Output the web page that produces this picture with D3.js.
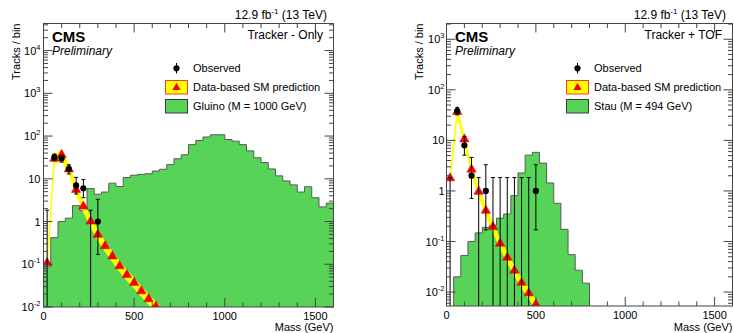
<!DOCTYPE html>
<html>
<head>
<meta charset="utf-8">
<script src="https://cdn.jsdelivr.net/npm/d3@7/dist/d3.min.js"></script>
<style>
  body { margin: 0; background: #fff; }
  svg { display: block; font-family: "Liberation Sans", Arial, Helvetica, sans-serif; }
</style>
</head>
<body>
<svg id="chart" width="734" height="333"></svg>
<script>
// ---- data ----
const binWidth = 40; // GeV, histograms span 0..1600

// signal histograms (tracks / bin), one value per 40 GeV bin
const gluino = [0.087, 0.42, 1.0, 1.2, 2.35, 1.8, 5.9, 4.35, 4.9, 7.9,
  6.6, 10.7, 12.1, 12.7, 13.1, 15.2, 16.7, 21.5, 29.4, 36.5,
  63, 79, 95, 107, 107, 83, 76, 63, 45, 31,
  24, 17, 11.7, 8.9, 7.2, 4.9, 6.5, 3.6, 2.2, 2.7];
const stau = [0, 0.020, 0.053, 0.10, 0.148, 0.19, 0.21, 0.29, 0.35, 0.81,
  2.27, 5.1, 5.8, 3.55, 1.44, 0.57, 0.174, 0.055, 0.027, 0.015,
  0, 0, 0, 0, 0, 0, 0, 0, 0, 0,
  0, 0, 0, 0, 0, 0, 0, 0, 0, 0];

// data-based SM prediction
const predMassTk = [20, 60, 100, 140, 180, 220, 260, 300, 340, 380, 420, 460, 500, 540, 580, 620, 660];
const predTk = [0.105, 29, 35.5, 16.3, 5.4, 2.2, 0.98, 0.48, 0.26, 0.15, 0.088, 0.055, 0.036, 0.023, 0.015, 0.010, 0.0065];
const predMassTof = [20, 60, 100, 140, 180, 220, 260, 300, 340, 380, 420, 460, 500, 540];
const predTof = [1.75, 36, 10.3, 2.6, 0.95, 0.40, 0.19, 0.089, 0.047, 0.026, 0.015, 0.0093, 0.0056, 0.0034];

// observed tracks with error bar ends
const obsMassTk = [20, 60, 100, 140, 180, 220, 260, 300];
const obsTk = [0, 32, 30, 17, 7, 6, 0, 1];
const obsLoTk = [0, 26.4, 24.6, 13, 4.4, 3.6, 0, 0.17];
const obsHiTk = [1.84, 37.7, 35.5, 21.2, 10.8, 9.6, 1.84, 3.3];
const obsMassTof = [20, 60, 100, 140, 180, 220, 260, 300, 340, 380, 420, 460, 500];
const obsTof = [0, 38, 8, 2, 0, 1, 0, 0, 0, 0, 0, 0, 1];
const obsLoTof = [0, 32, 5.1, 0.71, 0, 0.17, 0, 0, 0, 0, 0, 0, 0.17];
const obsHiTof = [1.84, 44.2, 11.8, 4.6, 1.84, 3.3, 1.84, 1.84, 1.84, 1.84, 1.84, 1.84, 3.3];

const xTickLabels = [0, 500, 1000, 1500];
const yExpTk = [-2, -1, 0, 1, 2, 3, 4];
const yExpTof = [-2, -1, 0, 1, 2, 3];

const svg = d3.select("#chart");
const green = "#57d357";

function drawPanel(p) {
  const x = d3.scaleLinear().domain([0, 1600]).range([p.left, p.right]);
  const y = d3.scaleLog().domain(p.yDomain).range([p.bottom, p.top]);
  const ymin = p.yDomain[0];
  const g = svg.append("g");

  const clipId = "clip" + p.id;
  svg.append("clipPath").attr("id", clipId)
    .append("rect")
    .attr("x", p.left).attr("y", p.top)
    .attr("width", p.right - p.left).attr("height", p.bottom - p.top);

  const plot = g.append("g").attr("clip-path", `url(#${clipId})`);

  // signal histogram
  const hp = d3.path();
  hp.moveTo(x(0), p.bottom + 2);
  p.signal.forEach((v, i) => {
    const yv = y(Math.max(v, ymin * 0.98));
    hp.lineTo(x(i * binWidth), yv);
    hp.lineTo(x((i + 1) * binWidth), yv);
  });
  hp.lineTo(x(1600), p.bottom + 2);
  hp.closePath();
  plot.append("path").attr("d", hp.toString())
    .attr("fill", green).attr("stroke", "#5a5a5a").attr("stroke-width", 1);

  // prediction band + markers
  const pred = p.predMass.map((m, i) => ({ m, v: p.pred[i] }));
  const band = d3.area()
    .x(d => x(d.m))
    .y0(d => y(d.v) + 5.5)
    .y1(d => y(d.v) - 5.5);
  plot.append("path").attr("d", band(pred)).attr("fill", "#ffff00");
  plot.append("path").attr("d", d3.line().x(d => x(d.m)).y(d => y(d.v))(pred))
    .attr("fill", "none").attr("stroke", "#ffff00").attr("stroke-width", 1.5);
  plot.selectAll(".tri").data(pred).enter().append("path")
    .attr("d", d3.symbol(d3.symbolTriangle, 38))
    .attr("transform", d => `translate(${x(d.m)},${y(d.v) - 0.5})`)
    .attr("fill", "#ff0000").attr("stroke", "#d00000").attr("stroke-width", 0.5);

  // observed
  const obs = p.obsMass.map((m, i) => ({ m, v: p.obs[i], lo: p.obsLo[i], hi: p.obsHi[i] }));
  obs.forEach(d => {
    const cx = x(d.m);
    const yHi = y(d.hi);
    const yLo = d.lo > 0 ? y(d.lo) : p.bottom + 2;
    plot.append("line").attr("x1", cx).attr("x2", cx).attr("y1", yHi).attr("y2", yLo)
      .attr("stroke", "#000").attr("stroke-width", 1);
    plot.append("line").attr("x1", cx - 2).attr("x2", cx + 2).attr("y1", yHi).attr("y2", yHi)
      .attr("stroke", "#000").attr("stroke-width", 1);
    if (d.lo > 0) {
      plot.append("line").attr("x1", cx - 2).attr("x2", cx + 2).attr("y1", yLo).attr("y2", yLo)
        .attr("stroke", "#000").attr("stroke-width", 1);
    }
    if (d.v > 0) {
      plot.append("circle").attr("cx", cx).attr("cy", y(d.v)).attr("r", 3.1).attr("fill", "#000");
    }
  });

  // frame
  g.append("rect")
    .attr("x", p.left).attr("y", p.top)
    .attr("width", p.right - p.left).attr("height", p.bottom - p.top)
    .attr("fill", "none").attr("stroke", "#444").attr("stroke-width", 1);

  // x ticks (bottom + mirrored top)
  x.ticks(16).forEach(t => {
    const len = t % 500 === 0 ? 9 : 4.5;
    const xx = x(t);
    g.append("line").attr("x1", xx).attr("x2", xx).attr("y1", p.bottom).attr("y2", p.bottom - len)
      .attr("stroke", "#444");
    g.append("line").attr("x1", xx).attr("x2", xx).attr("y1", p.top).attr("y2", p.top + len)
      .attr("stroke", "#444");
  });
  // y ticks (left + mirrored right)
  y.ticks().forEach(t => {
    const major = Math.abs(Math.log10(t) - Math.round(Math.log10(t))) < 1e-6;
    const len = major ? 9 : 4.5;
    const yy = y(t);
    g.append("line").attr("x1", p.left).attr("x2", p.left + len).attr("y1", yy).attr("y2", yy)
      .attr("stroke", "#444");
    g.append("line").attr("x1", p.right).attr("x2", p.right - len).attr("y1", yy).attr("y2", yy)
      .attr("stroke", "#444");
  });

  // tick labels
  xTickLabels.forEach(t => {
    g.append("text").attr("x", x(t)).attr("y", p.bottom + 12.5)
      .attr("text-anchor", "middle").attr("font-size", 11).text(t);
  });
  p.yExp.forEach(e => {
    const t = g.append("text").attr("x", p.left - p.labelGap).attr("y", y(Math.pow(10, e)) + 4)
      .attr("text-anchor", "end").attr("font-size", 11);
    if (e === 0) t.text("1");
    else if (e === 1) t.text("10");
    else {
      t.append("tspan").text("10");
      t.append("tspan").attr("font-size", 7.5).attr("dy", -5).text(e);
    }
  });

  // axis titles
  g.append("text").attr("x", p.right).attr("y", 331)
    .attr("text-anchor", "end").attr("font-size", 11).text("Mass (GeV)");
  g.append("text").attr("transform", `translate(${p.left - 24},${p.top}) rotate(-90)`)
    .attr("text-anchor", "end").attr("font-size", 11).text("Tracks / bin");

  // header texts
  const lumi = g.append("text").attr("x", p.right - 6.5).attr("y", 18.5)
    .attr("text-anchor", "end").attr("font-size", 12);
  lumi.append("tspan").text("12.9 fb");
  lumi.append("tspan").attr("font-size", 8).attr("dy", -5).text("-1");
  lumi.append("tspan").attr("dy", 5).text(" (13 TeV)");

  g.append("text").attr("x", p.left + 8.5).attr("y", 42)
    .attr("font-size", 15).attr("font-weight", "bold").text("CMS");
  g.append("text").attr("x", p.left + 8.5).attr("y", 55)
    .attr("font-size", 12).attr("font-style", "italic").text("Preliminary");
  g.append("text").attr("x", p.right - 10.5).attr("y", 38.5)
    .attr("text-anchor", "end").attr("font-size", 12).text(p.tag);

  // legend
  const lx = p.left + p.legendOffset;
  const tx = lx + 27.5;
  g.append("line").attr("x1", lx + 11).attr("x2", lx + 11).attr("y1", 63).attr("y2", 73.5)
    .attr("stroke", "#000");
  g.append("circle").attr("cx", lx + 11).attr("cy", 68.3).attr("r", 3.1).attr("fill", "#000");
  g.append("text").attr("x", tx).attr("y", 72.2).attr("font-size", 11).text("Observed");

  g.append("rect").attr("x", lx).attr("y", 80.5).attr("width", 22).attr("height", 13.5)
    .attr("fill", "#ffff00").attr("stroke", "#ff3b1f").attr("stroke-width", 1);
  g.append("path").attr("d", d3.symbol(d3.symbolTriangle, 30))
    .attr("transform", `translate(${lx + 11},${87.5})`).attr("fill", "#ff0000");
  g.append("text").attr("x", tx).attr("y", 91.2).attr("font-size", 11).text("Data-based SM prediction");

  g.append("rect").attr("x", lx).attr("y", 99.5).attr("width", 22).attr("height", 13.5)
    .attr("fill", green).attr("stroke", "#3a3a3a").attr("stroke-width", 1);
  g.append("text").attr("x", tx).attr("y", 110.2).attr("font-size", 11).text(p.signalName);
}

drawPanel({
  id: "tk", left: 43.5, right: 333.5, top: 23.5, bottom: 307,
  yDomain: [0.01, 43000], yExp: yExpTk, labelGap: 3,
  signal: gluino, predMass: predMassTk, pred: predTk,
  obsMass: obsMassTk, obs: obsTk, obsLo: obsLoTk, obsHi: obsHiTk,
  tag: "Tracker - Only", signalName: "Gluino (M = 1000 GeV)", legendOffset: 122
});
drawPanel({
  id: "tof", left: 446.5, right: 732.5, top: 23.5, bottom: 306,
  yDomain: [0.0053, 2050], yExp: yExpTof, labelGap: 2,
  signal: stau, predMass: predMassTof, pred: predTof,
  obsMass: obsMassTof, obs: obsTof, obsLo: obsLoTof, obsHi: obsHiTof,
  tag: "Tracker + TOF", signalName: "Stau (M = 494 GeV)", legendOffset: 120
});
</script>
</body>
</html>
